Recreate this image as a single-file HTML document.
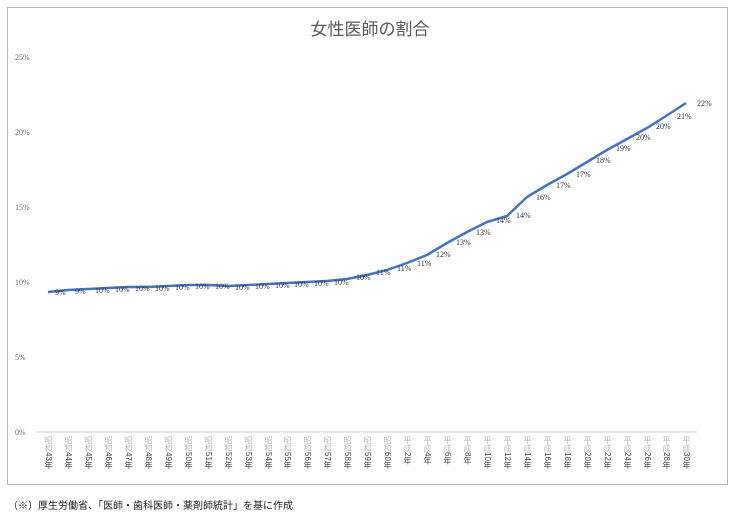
<!DOCTYPE html>
<html><head><meta charset="utf-8"><style>
body{margin:0;background:#fff;width:740px;height:525px;overflow:hidden;font-family:"Liberation Sans","Noto Sans CJK JP",sans-serif}
.xl{position:absolute;top:436px;writing-mode:vertical-rl;font-size:8px;line-height:9px;color:#444;letter-spacing:0}
.xl span{color:#bbb}
</style></head><body>
<div style="position:absolute;left:7px;top:7px;width:719px;height:476px;border:1px solid #b8b8b8"></div>
<svg width="740" height="525" style="position:absolute;left:0;top:0" font-family="Liberation Sans, Noto Sans CJK JP, sans-serif">
<text x="370" y="35" text-anchor="middle" font-size="17" fill="#595959">女性医師の割合</text>
<g font-size="8" fill="#666" font-family="Liberation Serif, serif">
<text x="15" y="60">25%</text><text x="15" y="135">20%</text><text x="15" y="210">15%</text><text x="15" y="285">10%</text><text x="15" y="360">5%</text><text x="15" y="435">0%</text>
</g>
<line x1="37" y1="432" x2="697" y2="432" stroke="#d0d0d0" stroke-width="1"/>
<polyline fill="none" stroke="#4472c4" stroke-width="2.5" stroke-linejoin="round" points="48,292 68,290 88,289 108,288 128,287 148,287 168,286 188,285 208,285 228,286 248,285 268,284 287,283 307,282 327,281 347,279 367,275 387,270 407,263 427,255 447,243 467,232 487,222 507,216 527,197 547,185 567,174 587,162 607,150 627,139 647,128 666,116 686,103"/>
<g font-size="8" fill="#333" font-family="Liberation Serif, serif">
<text x="55" y="295">9%</text><text x="75" y="294">9%</text><text x="95" y="293">10%</text><text x="115" y="292">10%</text><text x="135" y="291">10%</text><text x="155" y="291">10%</text><text x="175" y="290">10%</text><text x="195" y="289">10%</text><text x="215" y="289">10%</text><text x="235" y="290">10%</text><text x="255" y="289">10%</text><text x="275" y="288">10%</text><text x="294" y="287">10%</text><text x="314" y="286">10%</text><text x="334" y="285">10%</text><text x="356" y="280">10%</text><text x="376" y="275">11%</text><text x="397" y="271">11%</text><text x="417" y="266">11%</text><text x="436" y="257">12%</text><text x="456" y="245">13%</text><text x="476" y="235">13%</text><text x="496" y="223">14%</text><text x="516" y="218">14%</text><text x="536" y="200">16%</text><text x="556" y="188">17%</text><text x="576" y="177">17%</text><text x="596" y="163">18%</text><text x="616" y="151">19%</text><text x="636" y="140">20%</text><text x="656" y="129">20%</text><text x="677" y="119">21%</text><text x="697" y="106">22%</text>
</g>
</svg>
<div class="xl" style="left:44px"><span>昭和</span>43年</div>
<div class="xl" style="left:64px"><span>昭和</span>44年</div>
<div class="xl" style="left:84px"><span>昭和</span>45年</div>
<div class="xl" style="left:104px"><span>昭和</span>46年</div>
<div class="xl" style="left:124px"><span>昭和</span>47年</div>
<div class="xl" style="left:144px"><span>昭和</span>48年</div>
<div class="xl" style="left:164px"><span>昭和</span>49年</div>
<div class="xl" style="left:184px"><span>昭和</span>50年</div>
<div class="xl" style="left:204px"><span>昭和</span>51年</div>
<div class="xl" style="left:224px"><span>昭和</span>52年</div>
<div class="xl" style="left:244px"><span>昭和</span>53年</div>
<div class="xl" style="left:264px"><span>昭和</span>54年</div>
<div class="xl" style="left:283px"><span>昭和</span>55年</div>
<div class="xl" style="left:303px"><span>昭和</span>56年</div>
<div class="xl" style="left:323px"><span>昭和</span>57年</div>
<div class="xl" style="left:343px"><span>昭和</span>58年</div>
<div class="xl" style="left:363px"><span>昭和</span>59年</div>
<div class="xl" style="left:383px"><span>昭和</span>60年</div>
<div class="xl" style="left:403px"><span>平成</span>2年</div>
<div class="xl" style="left:423px"><span>平成</span>4年</div>
<div class="xl" style="left:443px"><span>平成</span>6年</div>
<div class="xl" style="left:463px"><span>平成</span>8年</div>
<div class="xl" style="left:483px"><span>平成</span>10年</div>
<div class="xl" style="left:503px"><span>平成</span>12年</div>
<div class="xl" style="left:523px"><span>平成</span>14年</div>
<div class="xl" style="left:543px"><span>平成</span>16年</div>
<div class="xl" style="left:563px"><span>平成</span>18年</div>
<div class="xl" style="left:583px"><span>平成</span>20年</div>
<div class="xl" style="left:603px"><span>平成</span>22年</div>
<div class="xl" style="left:623px"><span>平成</span>24年</div>
<div class="xl" style="left:643px"><span>平成</span>26年</div>
<div class="xl" style="left:662px"><span>平成</span>28年</div>
<div class="xl" style="left:682px"><span>平成</span>30年</div>
<div style="position:absolute;left:8px;top:497px;font-size:10px;color:#222">（※）厚生労働省、「医師・歯科医師・薬剤師統計」を基に作成</div>
</body></html>
